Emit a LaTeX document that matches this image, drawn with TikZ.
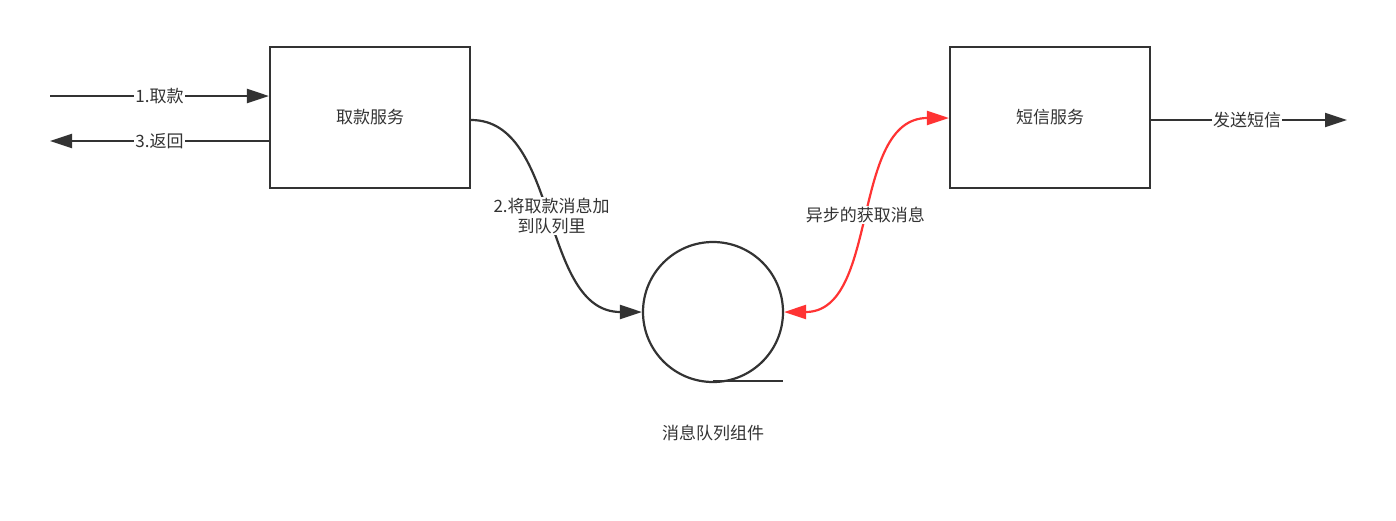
\documentclass[tikz,border=0pt]{standalone}
\usepackage{fontspec}
\setmainfont{Noto Sans CJK SC}
\usetikzlibrary{arrows.meta}
\definecolor{dk}{HTML}{333333}
\definecolor{rd}{HTML}{FF3333}
\begin{document}
\begin{tikzpicture}[x=1pt,y=-1pt,
  box/.style={draw=dk,line width=2.2pt,minimum width=200pt,minimum height=141pt,inner sep=0pt,font=\fontsize{17}{20}\selectfont,text=dk},
  lbl/.style={fill=white,inner sep=1pt,font=\fontsize{17}{20}\selectfont,text=dk,align=center},
  con/.style={draw=dk,line width=2.2pt},
  tip/.style={-{Triangle[length=22pt,width=14pt]}}]
\useasboundingbox (0,0) rectangle (1396,520);
\node[box] (a) at (370,117.5) {取款服务};
\node[box] (b) at (1050,117.5) {短信服务};
\node[draw=dk,line width=2.2pt,circle,minimum size=140pt,inner sep=0pt] (q) at (713,312) {};
\coordinate (qb) at (713,381);
\coordinate (qe) at (783,381);
\draw[con] (qb) -- (qe);
\node[lbl,fill=none] (cap) at (713,433) {消息队列组件};
\coordinate (l1) at (50,96);
\coordinate (l2) at (50,141);
\coordinate (r1) at (1347,120);
\draw[con,tip] (l1) -- (a.west |- l1) node[lbl,pos=0.5] {1.取款};
\draw[con,tip] (a.west |- l2) -- (l2) node[lbl,pos=0.5] {3.返回};
\draw[con,tip] (b.east |- r1) -- (r1) node[lbl,pos=0.49] {发送短信};
\draw[con,tip] (a.east |- 0,120) .. controls (560,120) and (540,312) .. (q.west)
  node[lbl,pos=0.5] {2.将取款消息加\\到队列里};
\draw[draw=rd,line width=2.2pt,{Triangle[length=22pt,width=14pt]}-{Triangle[length=22pt,width=14pt]},color=rd]
  (q.east) .. controls (880,312) and (850,118) .. (b.west |- 0,118)
  node[lbl,pos=0.5] {异步的获取消息};
\end{tikzpicture}
\end{document}
